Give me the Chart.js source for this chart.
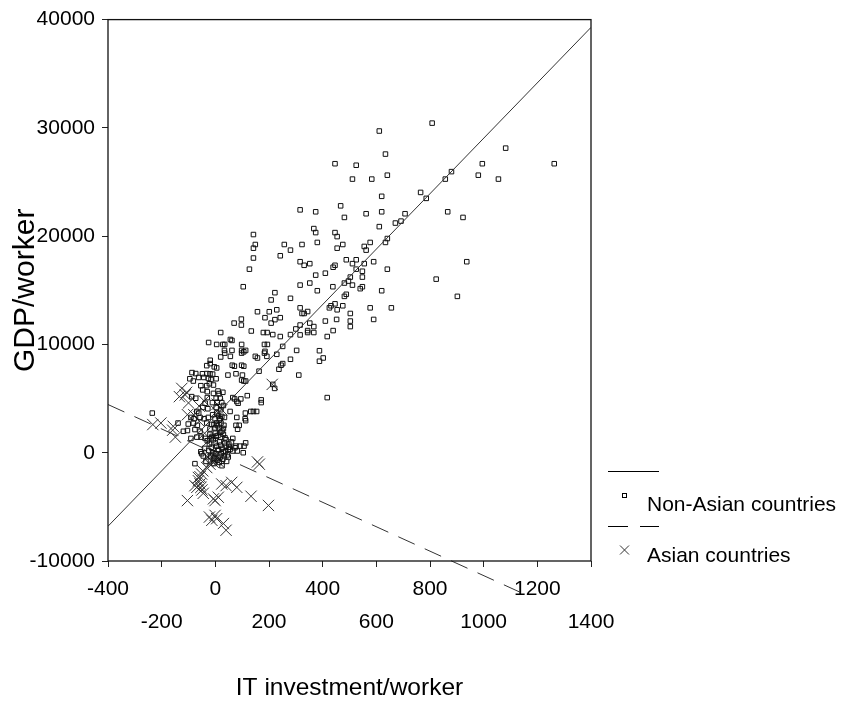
<!DOCTYPE html>
<html>
<head>
<meta charset="utf-8">
<script src="https://cdn.jsdelivr.net/npm/chart.js@4.4.0/dist/chart.umd.min.js"></script>
<style>
html,body{margin:0;padding:0;background:#fff;}
#wrap{position:relative;width:842px;height:710px;overflow:hidden;}
#c{position:absolute;left:0;top:0;}
#lgsvg{position:absolute;left:0;top:0;}
.lg{position:absolute;font-family:"Liberation Sans",Arial,sans-serif;font-size:21px;color:#000;line-height:1;white-space:nowrap;}
</style>
</head>
<body>
<div id="wrap">
<canvas id="c" width="842" height="710"></canvas>
<svg id="lgsvg" width="842" height="710">
  <line x1="608" y1="471.5" x2="659" y2="471.5" stroke="#000" stroke-width="1"/>
  <rect x="622.5" y="493.5" width="4" height="4" fill="none" stroke="#000" stroke-width="1"/>
  <line x1="608" y1="526.5" x2="628" y2="526.5" stroke="#000" stroke-width="1"/>
  <line x1="640" y1="526.5" x2="659" y2="526.5" stroke="#000" stroke-width="1"/>
  <path d="M620 545.5 L629 554.5 M629 545.5 L620 554.5" stroke="#333" stroke-width="1" fill="none"/>
</svg>
<div class="lg" id="lg1" style="left:647px;top:493px"></div>
<div class="lg" id="lg2" style="left:647px;top:544px"></div>
</div>
<script>
// ---------------- data ----------------
const seriesNames = ['Non-Asian countries', 'Asian countries'];
const xTitle = 'IT investment/worker';
const yTitle = 'GDP/worker';

const xTicksUpper = [-400, 0, 400, 800, 1200];
const xTicksLower = [-200, 200, 600, 1000, 1400];
const yTicks = [-10000, 0, 10000, 20000, 30000, 40000];

// fitted lines (end points)
const nonAsianFitX = [-400, 1400];
const nonAsianFitY = [-6790, 39280];
const asianFitX = [-400, 1140];
const asianFitY = [4450, -12930];

// [IT investment/worker, GDP/worker]
const nonAsianPoints = [
[808,30440],[611,29710],[1082,28130],[634,27580],[446,26690],[525,26550],[995,26690],[1263,26690],[880,25960],[641,25630],
[980,25630],[511,25270],[583,25270],[857,25270],[1055,25270],[765,24040],[786,23490],[620,23680],[467,22800],[316,22430],
[374,22250],[620,22250],[562,22070],[707,22070],[866,22250],[481,21730],[923,21730],[692,21390],[671,21210],[611,20880],
[367,20700],[374,20330],[446,20330],[454,19960],[641,19780],[634,19420],[380,19420],[323,19230],[475,19230],[454,18890],
[577,19420],[555,19050],[562,18710],[488,17820],[525,17820],[511,17460],[590,17640],[555,17460],[316,17640],[331,17310],
[352,17460],[446,17310],[439,17130],[525,16950],[548,16760],[641,16950],[937,17640],[410,16580],[374,16400],[503,16220],
[548,16220],[496,15850],[481,15670],[823,16030],[352,15670],[316,15480],[438,15330],[511,15480],[548,15330],[540,15150],
[380,14960],[620,14960],[488,14630],[481,14440],[902,14440],[431,13570],[446,13750],[454,13200],[475,13570],[425,13380],
[577,13380],[656,13380],[316,13380],[323,12860],[331,12860],[344,13040],[503,12860],[590,12310],[452,12310],[410,12160],
[503,12160],[503,11650],[352,11970],[367,11650],[316,11790],[344,11280],[367,11100],[344,11100],[439,11280],[417,10730],
[388,9420],
[142,20150],[257,19230],[149,19230],[142,18890],[280,18710],[142,17980],[242,18190],[127,16950],[104,15330],[222,14780],
[208,14110],[280,14260],[157,13020],[201,13020],[229,13200],[185,12470],[222,12290],[208,11970],[242,12470],[97,12340],
[97,11790],[70,11970],[134,11240],[20,11100],[179,11100],[193,11100],[214,10910],[242,10730],[280,10910],[300,11430],
[-25,10180],[5,10000],[28,10000],[35,10000],[62,10370],[56,10460],[98,10000],[183,10000],[194,10000],[251,9820],
[34,9450],[62,9450],[98,9450],[113,9450],[185,9360],[303,9450],
[20,8840],[35,9200],[56,8900],[98,9200],[106,9320],[149,8900],[183,9200],[192,8900],[229,9090],[-19,8540],
[-19,8230],[-32,8040],[-4,7930],[5,7830],[63,8080],[71,7990],[98,8080],[106,7990],[47,7170],[77,7290],
[101,7170],[163,7530],[245,8080],[251,8230],[237,7710],[280,8630],[311,7170],[-87,7400],[-73,7310],[-48,7290],
[-32,7310],[-20,7290],[-10,7260],[-95,6830],[-82,6620],[-62,6950],[-43,6950],[-26,6860],[-16,6760],[3,6830],
[98,6710],[106,6620],[113,6620],[-54,6190],[-32,6190],[-22,6370],[-7,6250],[-47,5800],[-30,5640],[-7,5480],
[10,5700],[14,5460],[28,5580],[119,5270],[-88,5180],[-73,5030],[-30,5090],[3,5030],[18,5030],[65,5090],
[72,4970],[80,4730],[85,4570],[95,4970],[171,4880],[171,4630],[-38,4570],[-11,4630],[7,4660],[24,4630],
[30,4360],[-47,4180],[-28,4060],[3,4180],[21,3970],[-235,3660],[-69,3810],[-62,3660],[55,3810],[112,3660],
[132,3810],[142,3810],[154,3810],[-10,3510],[5,3660],[24,3350],[-91,3260],[-79,3140],[-57,3260],[-42,3140],
[-26,3260],[-1,3140],[18,3140],[34,3260],[80,3260],[111,3140],[113,2960],[-139,2740],[-101,2650],[-82,2740],
[-67,2530],[-32,2740],[-13,2620],[5,2740],[21,2740],[32,2530],[77,2530],[89,2530],[83,2170],[-119,1980],
[-104,2050],[-76,2140],[-57,1980],[-20,2190],[-1,2290],[14,2230],[30,2230],[-91,1320],[-69,1440],[-53,1440],
[-38,1320],[-15,1370],[3,1530],[20,1440],[36,1370],[65,1320],[113,910],[77,610],[92,610],[107,610],
[-54,90],[-51,-90],[48,310],[65,160],[73,460],[82,160],[104,0],[-76,-1010],
[316,10880],[157,8750],[402,8750],[388,8450],[214,6310],[221,5940],[417,5090],
[-30,1100],[-22,800],[-15,500],[-8,1200],[0,900],[5,600],[10,300],[15,1000],[20,700],[25,400],
[30,100],[35,900],[40,600],[45,-200],[50,800],[55,300],[-25,200],[-18,-300],[-10,0],[-5,-500],
[2,-100],[8,-700],[12,200],[18,-400],[22,-100],[28,-600],[33,-300],[38,100],[42,-800],[48,-400],
[0,1800],[10,1600],[20,1900],[-20,1700],[30,1700],[40,1200],[-35,-800],[-5,-1000],[15,-900],[25,-1200],
[-12,1500],[52,500],[60,1000],[-40,400],[-45,-300],[8,2500],[15,3000],[25,2000],[-5,2600],[12,3400]
];

const asianPoints = [
[-125,5940],[-134,5180],[-112,5340],[-107,5580],[-104,3510],[-42,4790],[-233,2600],[-203,2740],[-159,2080],[-149,1440],
[-157,2440],[7,4480],[5,3810],[24,3970],[212,6310],[164,-1060],[157,-850],[-32,-1370],[-20,-1060],[-7,-910],
[-13,-760],[-47,-1670],[-51,-1970],[-57,-2220],[-63,-2290],[-63,-2590],[-57,-2890],[-54,-3200],[-50,-3440],[-45,-3750],
[-69,-3200],[-76,-3040],[24,-2890],[40,-3040],[61,-2740],[80,-3200],[133,-4020],[198,-4870],[-104,-4420],[-7,-4260],
[11,-4110],[-1,-4420],[-22,-5940],[-13,-6240],[-1,-5790],[5,-6090],[30,-6540],[40,-7160],
[-30,-400],[-20,-200],[-10,-600],[0,-300],[10,-800],[15,-500],[-80,3500],[-60,2900],[-40,1800],[-30,1000],
[-100,4600],[-60,4300]
];

// ---------------- chart ----------------
document.getElementById('lg1').textContent = seriesNames[0];
document.getElementById('lg2').textContent = seriesNames[1];

const FONT = '"Liberation Sans", Arial, sans-serif';
const toXY = arr => arr.map(p => ({x: p[0], y: p[1]}));
const zip = (xs, ys) => xs.map((v, i) => ({x: v, y: ys[i]}));

const framePlugin = {
  id: 'frame',
  afterDatasetsDraw(chart) {
    const {ctx, chartArea: a} = chart;
    ctx.save();
    ctx.strokeStyle = '#111';
    ctx.lineWidth = 1.3;
    ctx.strokeRect(a.left, a.top, a.right - a.left, a.bottom - a.top);
    ctx.restore();
  }
};

new Chart(document.getElementById('c'), {
  type: 'scatter',
  data: {
    datasets: [
      {
        label: seriesNames[0] + ' fit',
        data: zip(nonAsianFitX, nonAsianFitY),
        showLine: true, pointRadius: 0, borderColor: '#333', borderWidth: 1, fill: false
      },
      {
        label: seriesNames[1] + ' fit',
        data: zip(asianFitX, asianFitY),
        showLine: true, pointRadius: 0, borderColor: '#333', borderWidth: 1,
        borderDash: [18, 11], fill: false, clip: false
      },
      {
        label: seriesNames[0],
        data: toXY(nonAsianPoints),
        pointStyle: 'rect', pointRadius: 3.2, borderWidth: 1,
        borderColor: '#111', backgroundColor: 'rgba(0,0,0,0)'
      },
      {
        label: seriesNames[1],
        data: toXY(asianPoints),
        pointStyle: 'crossRot', pointRadius: 8, borderWidth: 1,
        borderColor: '#333', backgroundColor: 'rgba(0,0,0,0)'
      }
    ]
  },
  options: {
    responsive: false,
    animation: false,
    events: [],
    layout: {padding: {top: 14, right: 251, left: 0, bottom: 0}},
    plugins: {legend: {display: false}, tooltip: {enabled: false}, title: {display: false}},
    scales: {
      x: {
        type: 'linear', min: -400, max: 1400,
        afterBuildTicks: s => { s.ticks = xTicksUpper.concat(xTicksLower).sort((a, b) => a - b).map(v => ({value: v})); },
        afterFit: s => { s.height = 149; },
        ticks: {
          autoSkip: false, maxRotation: 0, minRotation: 0, padding: 6, color: '#000',
          font: {family: FONT, size: 21, lineHeight: 1.57},
          callback: v => xTicksLower.includes(v) ? ['', String(v)] : String(v)
        },
        grid: {drawOnChartArea: false, drawTicks: true, tickLength: 6, color: '#222', tickColor: '#222'},
        border: {display: false},
        title: {display: true, text: xTitle, color: '#000', font: {family: FONT, size: 24.5, lineHeight: 1.2}, padding: {top: 0, bottom: 7}}
      },
      y: {
        type: 'linear', min: -10000, max: 40000,
        afterBuildTicks: s => { s.ticks = yTicks.map(v => ({value: v})); },
        afterFit: s => { s.width = 108; },
        ticks: {padding: 7, color: '#000', font: {family: FONT, size: 21}, callback: v => String(v)},
        grid: {drawOnChartArea: false, drawTicks: true, tickLength: 6, color: '#222', tickColor: '#222'},
        border: {display: false},
        title: {display: true, text: yTitle, color: '#000', font: {family: FONT, size: 30, lineHeight: 1.2}, padding: {top: 8, bottom: 0}}
      }
    }
  },
  plugins: [framePlugin]
});
</script>
</body>
</html>
